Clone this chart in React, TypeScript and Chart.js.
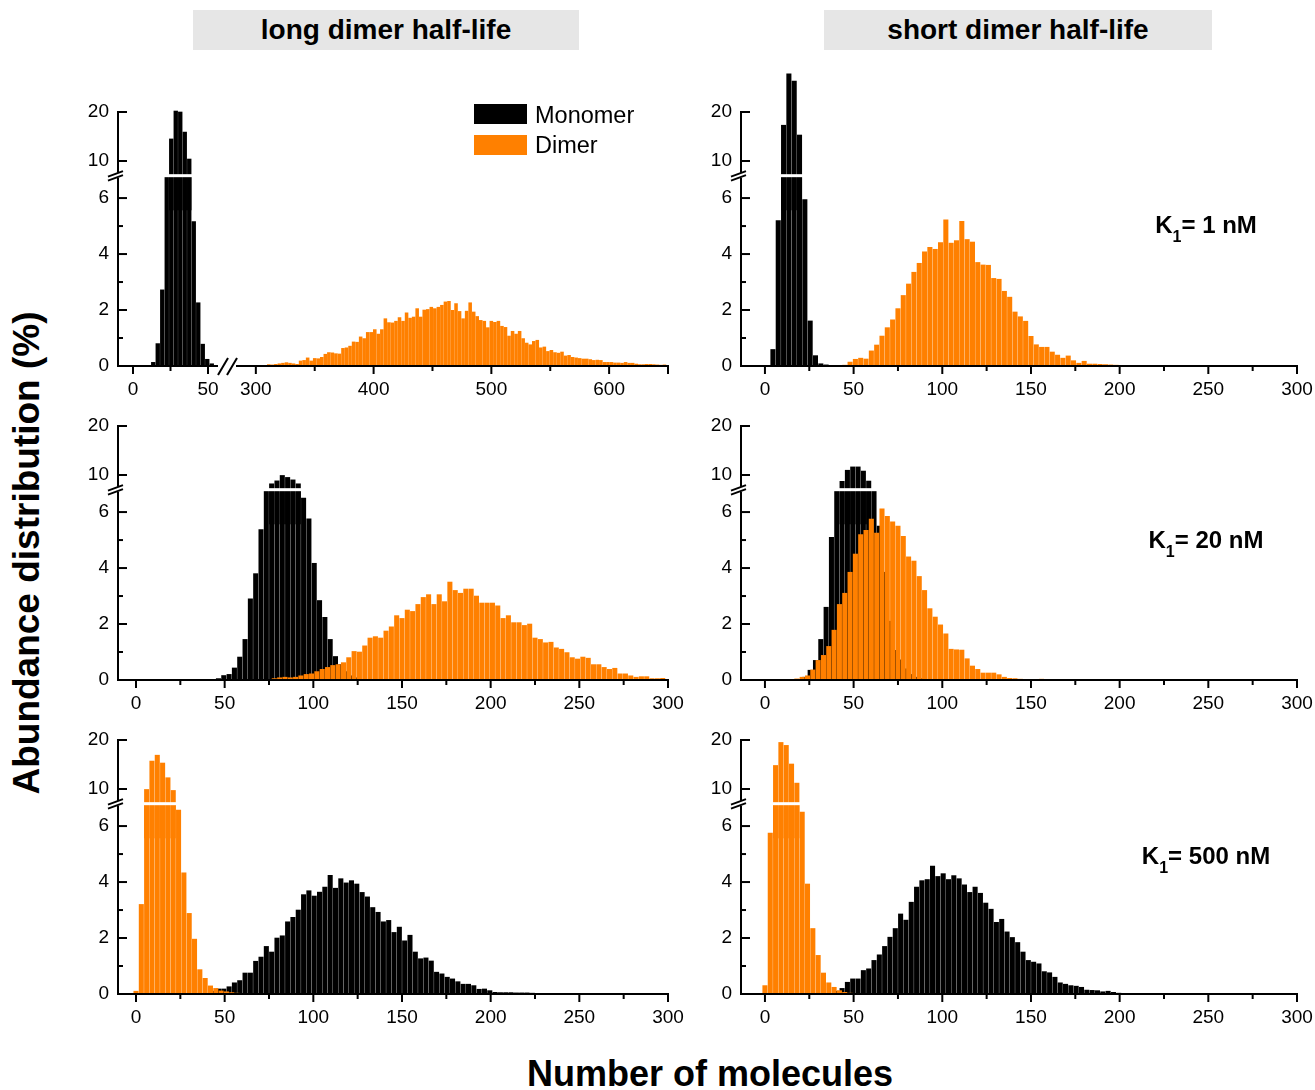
import React, { useEffect, useRef } from 'react';
import { Chart, registerables } from 'chart.js';

Chart.register(...registerables);

const FONT = "'Liberation Sans', Arial, Helvetica, sans-serif";
Chart.defaults.font.family = FONT;
Chart.defaults.font.size = 19;
Chart.defaults.color = '#000';

// ---------------- axis definitions ----------------
const BIN = 3; // histogram bin width (molecules)
const LOW_MAX = 6.8; // top of the lower y segment
const HIGH_MIN = 7; // bottom of the upper y segment
const HIGH_MAX = 20; // top of the upper y segment
const LOW_PX = 28; // px per % in the lower segment
const HIGH_PX = 4.9; // px per % in the upper segment

const Y_LOW_TICKS = [0, 2, 4, 6];
const Y_LOW_MINOR = [1, 3, 5];
const Y_HIGH_TICKS = [10, 20];
const X_TICKS = [0, 50, 100, 150, 200, 250, 300];
const X_MINOR = [25, 75, 125, 175, 225, 275];
const XA_TICKS = [0, 50];
const XA_MINOR = [25];
const XB_TICKS = [300, 400, 500, 600];
const XB_MINOR = [350, 450, 550, 650];

const COLUMN_TITLES = ['long dimer half-life', 'short dimer half-life'];
const K_LABELS = ['1 nM', '20 nM', '500 nM'];
const LEGEND_LABELS = ['Monomer', 'Dimer'];
const Y_TITLE = 'Abundance distribution (%)';
const X_TITLE = 'Number of molecules';

const ORANGE = '#ff8000';
const BLACK = '#000000';

// ---------------- data (abundance %, one value per bin) ----------------
// Row 1 left: long dimer half-life, K1 = 1 nM
const monoA_start = 13.5;
const monoA = [0.13, 0.8, 2.72, 7.0, 14.5, 20.2, 20.0, 15.9, 10.4, 5.16, 2.26, 0.78, 0.24, 0.08];
const dimerA_start = 296;
const dimerA = [
  0.01, 0.01, 0.01, 0.02, 0.02, 0.05, 0.04, 0.06, 0.08, 0.1, 0.12, 0.1, 0.08, 0.06, 0.18, 0.2, 0.29, 0.18,
  0.27, 0.26, 0.31, 0.42, 0.48, 0.47, 0.44, 0.43, 0.63, 0.65, 0.71, 0.86, 0.85, 1.04, 0.98, 1.2, 1.2, 1.3,
  1.14, 1.3, 1.69, 1.55, 1.54, 1.6, 1.73, 1.6, 1.9, 1.71, 1.75, 2.05, 1.75, 2.0, 2.02, 2.1, 2.05, 2.1, 2.17,
  2.29, 2.31, 1.99, 2.23, 1.95, 1.69, 1.96, 2.26, 1.93, 1.77, 1.63, 1.6, 1.37, 1.6, 1.56, 1.6, 1.42, 1.38,
  1.07, 1.24, 1.14, 1.24, 0.98, 0.82, 0.76, 0.88, 0.92, 0.65, 0.68, 0.52, 0.56, 0.48, 0.46, 0.5, 0.36, 0.38,
  0.31, 0.29, 0.27, 0.25, 0.25, 0.23, 0.2, 0.21, 0.2, 0.13, 0.13, 0.13, 0.11, 0.11, 0.1, 0.13, 0.1, 0.1,
  0.07, 0.05, 0.05, 0.06, 0.06, 0.05, 0.04, 0.03, 0.04,
];

// Row 1 right: short dimer half-life, K1 = 1 nM
const monoB_start = 4.5;
const monoB = [0.59, 5.2, 17.3, 27.8, 26.3, 15.3, 5.95, 1.61, 0.37, 0.08, 0.04];
const dimerB_start = 39;
const dimerB = [
  0.02, 0.02, 0.03, 0.14, 0.24, 0.28, 0.25, 0.54, 0.75, 1.07, 1.37, 1.65, 2.05, 2.52, 2.93, 3.35, 3.67, 4.08,
  4.24, 4.17, 4.41, 5.22, 4.39, 4.48, 5.17, 4.52, 4.43, 3.7, 3.61, 3.6, 3.13, 3.1, 2.67, 2.46, 1.93, 1.76,
  1.6, 1.06, 0.76, 0.67, 0.67, 0.5, 0.39, 0.28, 0.36, 0.19, 0.1, 0.17, 0.07, 0.07, 0.06, 0.05, 0.04, 0.03,
  0.02, 0.02, 0.02, 0.01, 0.01, 0.01, 0.01, 0.01, 0.01, 0.02,
];

// Row 2 left: long dimer half-life, K1 = 20 nM
const monoC_start = 46.5;
const monoC = [
  0.05, 0.16, 0.2, 0.43, 0.82, 1.45, 2.9, 3.8, 5.37, 7.0, 8.2, 8.8, 9.9, 9.5, 9.0, 8.2, 6.5, 5.76, 4.17,
  2.84, 2.24, 1.45, 0.84, 0.55, 0.3, 0.15, 0.08,
];
const dimerC_start = 78;
const dimerC = [
  0.05, 0.08, 0.1, 0.08, 0.1, 0.15, 0.2, 0.22, 0.3, 0.38, 0.45, 0.52, 0.55, 0.62, 0.8, 1.02, 1.0, 1.22, 1.5,
  1.55, 1.5, 1.75, 1.9, 2.3, 2.2, 2.5, 2.45, 2.7, 2.95, 3.05, 2.7, 3.05, 2.8, 3.5, 3.2, 3.1, 3.25, 3.25, 3.0,
  2.75, 2.75, 2.75, 2.65, 2.2, 2.3, 2.05, 2.05, 1.95, 2.0, 1.5, 1.45, 1.33, 1.35, 1.15, 1.1, 0.98, 0.8,
  0.75, 0.82, 0.78, 0.55, 0.55, 0.45, 0.38, 0.42, 0.22, 0.22, 0.15, 0.1, 0.12, 0.12, 0.05, 0.05, 0.06,
];

// Row 2 right: short dimer half-life, K1 = 20 nM
const monoD_start = 22.5;
const monoD = [
  0.1, 0.35, 0.7, 1.45, 2.6, 5.1, 7.0, 8.7, 10.97, 11.65, 11.65, 10.8, 8.76, 7.0, 5.5, 3.85, 2.1, 1.06,
  0.72, 0.4, 0.2, 0.1, 0.05,
];
const dimerD_start = 18;
const dimerD = [
  0.04, 0.1, 0.15, 0.36, 0.7, 0.88, 1.2, 1.78, 2.7, 3.1, 3.85, 4.5, 5.2, 5.35, 5.75, 5.25, 6.12, 5.85,
  5.65, 5.5, 5.13, 4.4, 4.25, 3.7, 3.2, 2.55, 2.25, 1.97, 1.65, 1.1, 1.08, 1.07, 0.76, 0.5, 0.38, 0.25,
  0.25, 0.25, 0.19, 0.1, 0.06, 0.05, 0.03, 0.02, 0.02, 0.01, 0.03,
];

// Row 3 left: long dimer half-life, K1 = 500 nM
const monoE_start = 43.5;
const monoE = [
  0.1, 0.18, 0.18, 0.26, 0.4, 0.48, 0.75, 0.75, 1.17, 1.32, 1.7, 1.5, 2.0, 2.08, 2.58, 2.74, 3.0, 3.55,
  3.69, 3.5, 3.64, 3.82, 4.24, 3.78, 4.12, 3.97, 4.05, 3.93, 3.63, 3.47, 3.09, 2.92, 2.58, 2.63, 2.2, 2.39,
  1.9, 2.1, 1.5, 1.26, 1.29, 1.18, 0.78, 0.72, 0.6, 0.54, 0.44, 0.35, 0.35, 0.3, 0.17, 0.18, 0.12, 0.06,
  0.05, 0.05, 0.05, 0.04, 0.04, 0.04, 0.03, 0.02, 0.02, 0.01, 0.01, 0.01,
];
const dimerE_start = 0;
const dimerE = [
  0.1, 3.2, 9.9, 15.7, 16.9, 15.3, 12.3, 9.7, 6.57, 4.33, 2.88, 1.96, 0.87, 0.56, 0.29, 0.2, 0.11, 0.08,
  0.05, 0.03,
];

// Row 3 right: short dimer half-life, K1 = 500 nM
const monoF_start = 40.5;
const monoF = [
  0.1, 0.2, 0.42, 0.54, 0.54, 0.84, 0.9, 1.2, 1.4, 1.7, 2.03, 2.34, 2.86, 2.64, 3.28, 3.82, 4.05, 4.09,
  4.57, 4.2, 4.3, 4.09, 4.23, 4.12, 3.9, 3.63, 3.82, 3.6, 3.25, 3.03, 2.56, 2.67, 2.22, 2.02, 1.84, 1.5,
  1.2, 1.14, 1.08, 0.8, 0.76, 0.6, 0.4, 0.35, 0.3, 0.28, 0.24, 0.14, 0.13, 0.12, 0.08, 0.1, 0.06, 0.03,
  0.02, 0.02, 0.02, 0.01, 0.01, 0.01,
];
const dimerF_start = 0;
const dimerF = [0.3, 5.75, 14.8, 19.5, 18.9, 15.1, 11.2, 6.5, 3.93, 2.34, 1.38, 0.75, 0.4, 0.24, 0.12, 0.06, 0.03];

// ---------------- layout ----------------
const LEFT_AXIS = 118;
const RIGHT_AXIS = 741;
const ROW_TOP = [112, 426, 740]; // pixel of y = 20
const PLOT_H = 254;
const PAD_TOP = 45;
const X_AXIS_H = 35;
const PAD_BOTTOM = 5;
const Y_AXIS_W = 50;
const THICK = 4.4;

type XAxisCfg = {
  id: string; min: number; max: number; weight: number;
  majors: number[]; minors: number[]; from: number; to: number;
};
type SeriesCfg = { start: number; values: number[]; color: string; xId: string; thickness: number; order: number };
type PanelCfg = {
  key: string; axisX: number; top: number; plotW: number; padRight: number;
  xAxes: XAxisCfg[]; series: SeriesCfg[]; xBreakAt?: number;
};

const fullX = (min: number): XAxisCfg[] => [
  { id: 'x', min, max: 300, weight: 1, majors: X_TICKS, minors: X_MINOR, from: min, to: 300 },
];

const PANELS: PanelCfg[] = [
  {
    key: 'A', axisX: LEFT_AXIS, top: ROW_TOP[0], plotW: 550, padRight: 22,
    xAxes: [
      { id: 'xa', min: -10, max: 69.33, weight: 119, majors: XA_TICKS, minors: XA_MINOR, from: -10, to: 56 },
      { id: 'xb', min: 284, max: 650, weight: 431, majors: XB_TICKS, minors: XB_MINOR, from: 284, to: 650 },
    ],
    series: [
      { start: dimerA_start, values: dimerA, color: ORANGE, xId: 'xb', thickness: 2.9, order: 0 },
      { start: monoA_start, values: monoA, color: BLACK, xId: 'xa', thickness: 3.7, order: 1 },
    ],
    xBreakAt: 56,
  },
  {
    key: 'B', axisX: RIGHT_AXIS, top: ROW_TOP[0], plotW: 556, padRight: 18, xAxes: fullX(-13.5),
    series: [
      { start: dimerB_start, values: dimerB, color: ORANGE, xId: 'x', thickness: THICK, order: 0 },
      { start: monoB_start, values: monoB, color: BLACK, xId: 'x', thickness: THICK, order: 1 },
    ],
  },
  {
    key: 'C', axisX: LEFT_AXIS, top: ROW_TOP[1], plotW: 550, padRight: 22, xAxes: fullX(-10.15),
    series: [
      { start: dimerC_start, values: dimerC, color: ORANGE, xId: 'x', thickness: THICK, order: 0 },
      { start: monoC_start, values: monoC, color: BLACK, xId: 'x', thickness: THICK, order: 1 },
    ],
  },
  {
    key: 'D', axisX: RIGHT_AXIS, top: ROW_TOP[1], plotW: 556, padRight: 18, xAxes: fullX(-13.5),
    series: [
      { start: dimerD_start, values: dimerD, color: ORANGE, xId: 'x', thickness: THICK, order: 0 },
      { start: monoD_start, values: monoD, color: BLACK, xId: 'x', thickness: THICK, order: 1 },
    ],
  },
  {
    key: 'E', axisX: LEFT_AXIS, top: ROW_TOP[2], plotW: 550, padRight: 22, xAxes: fullX(-10.15),
    series: [
      { start: dimerE_start, values: dimerE, color: ORANGE, xId: 'x', thickness: THICK, order: 0 },
      { start: monoE_start, values: monoE, color: BLACK, xId: 'x', thickness: THICK, order: 1 },
    ],
  },
  {
    key: 'F', axisX: RIGHT_AXIS, top: ROW_TOP[2], plotW: 556, padRight: 18, xAxes: fullX(-13.5),
    series: [
      { start: dimerF_start, values: dimerF, color: ORANGE, xId: 'x', thickness: THICK, order: 0 },
      { start: monoF_start, values: monoF, color: BLACK, xId: 'x', thickness: THICK, order: 1 },
    ],
  },
];

function makeAxesPlugin(cfg: PanelCfg) {
  return {
    id: 'brokenAxes' + cfg.key,
    afterDatasetsDraw(chart: any) {
      const ctx: CanvasRenderingContext2D = chart.ctx;
      const ca = chart.chartArea;
      const yLo = chart.scales.y;
      const yHi = chart.scales.y2;
      const L = ca.left;
      const B = yLo.top;
      const y0 = yLo.getPixelForValue(0);
      const line = (x1: number, y1: number, x2: number, y2: number) => {
        ctx.beginPath();
        ctx.moveTo(x1, y1);
        ctx.lineTo(x2, y2);
        ctx.stroke();
      };
      ctx.save();
      // white gap separating the two y segments
      ctx.fillStyle = '#ffffff';
      ctx.fillRect(L + 1, B - 1.5, ca.right - L + 10, 3);
      ctx.strokeStyle = '#000';
      ctx.lineWidth = 2;
      ctx.lineCap = 'butt';
      // y axis segments
      line(L, y0 + 1, L, B + 2);
      line(L, B - 3, L, yHi.getPixelForValue(HIGH_MAX) - 1);
      Y_LOW_TICKS.forEach((v) => { const p = yLo.getPixelForValue(v); line(L, p, L + 9, p); });
      Y_LOW_MINOR.forEach((v) => { const p = yLo.getPixelForValue(v); line(L, p, L + 5, p); });
      Y_HIGH_TICKS.forEach((v) => { const p = yHi.getPixelForValue(v); line(L, p, L + 9, p); });
      // y break marks
      line(L - 10, B + 5, L + 5, B - 0.5);
      line(L - 10, B + 1, L + 5, B - 4.5);
      // x axes
      cfg.xAxes.forEach((ax) => {
        const s = chart.scales[ax.id];
        const x1 = s.getPixelForValue(ax.from);
        const x2 = s.getPixelForValue(ax.to);
        line(x1 - 1, y0, x2 + 1, y0);
        ax.majors.forEach((v) => { const p = s.getPixelForValue(v); line(p, y0, p, y0 + 8); });
        ax.minors.forEach((v) => { const p = s.getPixelForValue(v); line(p, y0, p, y0 + 5); });
        if (ax.to === 300 || ax.to === 650) {
          const p = s.getPixelForValue(ax.to);
          line(p, y0, p, y0 + 8);
        }
      });
      if (cfg.xBreakAt !== undefined) {
        const xg = chart.scales[cfg.xAxes[0].id].getPixelForValue(cfg.xBreakAt);
        line(xg + 1, y0 + 9, xg + 11, y0 - 8);
        line(xg + 10, y0 + 9, xg + 20, y0 - 8);
      }
      ctx.restore();
    },
  };
}

function PanelChart({ cfg }: { cfg: PanelCfg }) {
  const ref = useRef<HTMLCanvasElement | null>(null);
  const width = Y_AXIS_W + cfg.plotW + cfg.padRight;
  const height = PAD_TOP + PLOT_H + X_AXIS_H + PAD_BOTTOM;
  useEffect(() => {
    const canvas = ref.current;
    if (!canvas) return;
    const datasets: any[] = [];
    cfg.series.forEach((s) => {
      const pts = s.values.map((v, i) => ({ x: s.start + BIN * i, y: v }));
      const common = {
        xAxisID: s.xId, backgroundColor: s.color, borderWidth: 0, barThickness: s.thickness,
        order: s.order, grouped: false, clip: false,
      };
      datasets.push({ ...common, yAxisID: 'y', data: pts.map((p) => ({ x: p.x, y: Math.min(p.y, LOW_MAX) })) });
      const hi = pts.filter((p) => p.y > HIGH_MIN);
      if (hi.length) datasets.push({ ...common, yAxisID: 'y2', data: hi });
    });
    const scales: any = {};
    const multi = cfg.xAxes.length > 1;
    cfg.xAxes.forEach((a, i) => {
      scales[a.id] = {
        type: 'linear', axis: 'x', position: 'bottom', min: a.min, max: a.max, offset: false,
        ...(multi ? { stack: 'xs', stackWeight: a.weight } : {}),
        weight: i,
        grid: { display: false, drawTicks: false, offset: false },
        border: { display: false },
        ticks: {
          autoSkip: false, maxRotation: 0, minRotation: 0, padding: 12, color: '#000',
          font: { size: 19, family: FONT }, callback: (v: any) => String(v),
        },
        afterBuildTicks: (s: any) => { s.ticks = a.majors.map((v) => ({ value: v })); },
        afterFit: (s: any) => { s.height = X_AXIS_H; s.paddingLeft = 0; s.paddingRight = 0; },
      };
    });
    const yCommon = {
      type: 'linear', axis: 'y', position: 'left', beginAtZero: false, stack: 'ys',
      grid: { display: false, drawTicks: false },
      border: { display: false },
      ticks: { autoSkip: false, padding: 9, color: '#000', font: { size: 19, family: FONT }, callback: (v: any) => String(v) },
    };
    scales.y = {
      ...yCommon, min: 0, max: LOW_MAX, stackWeight: LOW_MAX * LOW_PX, weight: 0,
      afterBuildTicks: (s: any) => { s.ticks = Y_LOW_TICKS.map((v) => ({ value: v })); },
      afterFit: (s: any) => { s.width = Y_AXIS_W; s.paddingTop = 0; s.paddingBottom = 0; },
    };
    scales.y2 = {
      ...yCommon, min: HIGH_MIN, max: HIGH_MAX, stackWeight: (HIGH_MAX - HIGH_MIN) * HIGH_PX, weight: 1,
      afterBuildTicks: (s: any) => { s.ticks = Y_HIGH_TICKS.map((v) => ({ value: v })); },
      afterFit: (s: any) => { s.width = Y_AXIS_W; s.paddingTop = 0; s.paddingBottom = 0; },
    };
    const chart = new Chart(canvas, {
      type: 'bar',
      data: { datasets },
      options: {
        responsive: false,
        maintainAspectRatio: false,
        animation: false,
        events: [],
        layout: { padding: { top: PAD_TOP, right: cfg.padRight, bottom: PAD_BOTTOM, left: 0 }, autoPadding: false },
        plugins: { legend: { display: false }, tooltip: { enabled: false } },
        scales,
      } as any,
      plugins: [makeAxesPlugin(cfg)],
    });
    return () => chart.destroy();
  }, [cfg]);
  return (
    <canvas
      ref={ref}
      width={width}
      height={height}
      style={{ position: 'absolute', left: cfg.axisX - Y_AXIS_W, top: cfg.top - PAD_TOP, width, height }}
    />
  );
}

const K_TOPS = [213, 528, 844];

export default function App() {
  return (
    <div
      style={{
        position: 'absolute', left: 0, top: 0, width: 1315, height: 1090, background: '#fff',
        overflow: 'hidden', fontFamily: FONT, color: '#000',
      }}
    >
      {[{ left: 193, width: 386 }, { left: 824, width: 388 }].map((b, i) => (
        <div
          key={'t' + i}
          style={{
            position: 'absolute', left: b.left, top: 10, width: b.width, height: 40, background: '#e6e6e6',
            display: 'flex', alignItems: 'center', justifyContent: 'center', fontWeight: 'bold', fontSize: 28,
          }}
        >
          {COLUMN_TITLES[i]}
        </div>
      ))}
      {PANELS.map((p) => (
        <PanelChart key={p.key} cfg={p} />
      ))}
      {/* legend */}
      <div style={{ position: 'absolute', left: 474, top: 104, width: 53, height: 20, background: BLACK }} />
      <div style={{ position: 'absolute', left: 474, top: 135, width: 53, height: 20, background: ORANGE }} />
      <div style={{ position: 'absolute', left: 535, top: 104, fontSize: 23.5, lineHeight: '23px', whiteSpace: 'nowrap' }}>
        {LEGEND_LABELS[0]}
      </div>
      <div style={{ position: 'absolute', left: 535, top: 134, fontSize: 23.5, lineHeight: '23px', whiteSpace: 'nowrap' }}>
        {LEGEND_LABELS[1]}
      </div>
      {/* K1 labels */}
      {K_LABELS.map((k, i) => (
        <div
          key={'k' + i}
          style={{
            position: 'absolute', left: 1106, top: K_TOPS[i], width: 200, textAlign: 'center',
            fontWeight: 'bold', fontSize: 24, lineHeight: '24px', whiteSpace: 'nowrap',
          }}
        >
          K<span style={{ fontSize: 16, verticalAlign: '-9px', lineHeight: 0 }}>1</span>= {k}
        </div>
      ))}
      {/* axis titles */}
      <div
        style={{
          position: 'absolute', left: 26, top: 553, transform: 'translate(-50%, -50%) rotate(-90deg)',
          fontWeight: 'bold', fontSize: 37, lineHeight: '37px', whiteSpace: 'nowrap',
        }}
      >
        {Y_TITLE}
      </div>
      <div
        style={{
          position: 'absolute', left: 710, top: 1056, transform: 'translateX(-50%)',
          fontWeight: 'bold', fontSize: 36, lineHeight: '36px', whiteSpace: 'nowrap',
        }}
      >
        {X_TITLE}
      </div>
    </div>
  );
}
